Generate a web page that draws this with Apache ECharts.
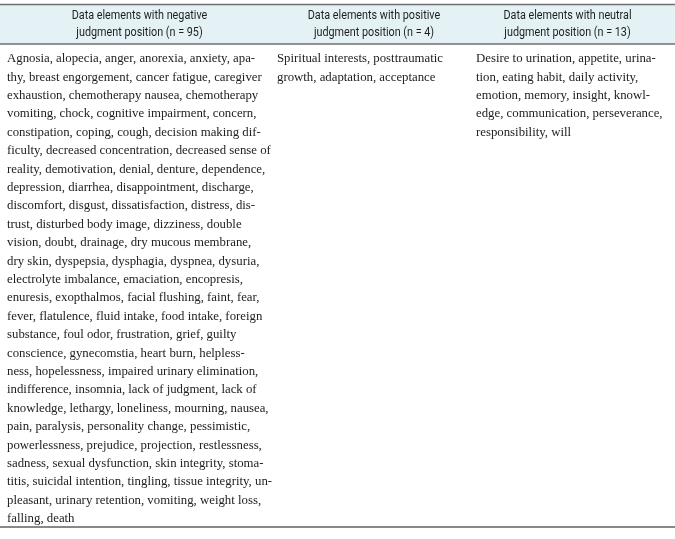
<!DOCTYPE html>
<html><head><meta charset="utf-8">
<script src="https://cdn.jsdelivr.net/npm/echarts@6/dist/echarts.min.js"></script>
<style>html,body{margin:0;padding:0;background:#fff}#c{width:675px;height:539px}</style>
</head><body><div id="c"></div>
<script>
var headers = [
  ["Data elements with negative", "judgment position (n = 95)"],
  ["Data elements with positive", "judgment position (n = 4)"],
  ["Data elements with neutral", "judgment position (n = 13)"]
];
var negativeLines = [
  "Agnosia, alopecia, anger, anorexia, anxiety, apa-",
  "thy, breast engorgement, cancer fatigue, caregiver",
  "exhaustion, chemotherapy nausea, chemotherapy",
  "vomiting, chock, cognitive impairment, concern,",
  "constipation, coping, cough, decision making dif-",
  "ficulty, decreased concentration, decreased sense of",
  "reality, demotivation, denial, denture, dependence,",
  "depression, diarrhea, disappointment, discharge,",
  "discomfort, disgust, dissatisfaction, distress, dis-",
  "trust, disturbed body image, dizziness, double",
  "vision, doubt, drainage, dry mucous membrane,",
  "dry skin, dyspepsia, dysphagia, dyspnea, dysuria,",
  "electrolyte imbalance, emaciation, encopresis,",
  "enuresis, exopthalmos, facial flushing, faint, fear,",
  "fever, flatulence, fluid intake, food intake, foreign",
  "substance, foul odor, frustration, grief, guilty",
  "conscience, gynecomstia, heart burn, helpless-",
  "ness, hopelessness, impaired urinary elimination,",
  "indifference, insomnia, lack of judgment, lack of",
  "knowledge, lethargy, loneliness, mourning, nausea,",
  "pain, paralysis, personality change, pessimistic,",
  "powerlessness, prejudice, projection, restlessness,",
  "sadness, sexual dysfunction, skin integrity, stoma-",
  "titis, suicidal intention, tingling, tissue integrity, un-",
  "pleasant, urinary retention, vomiting, weight loss,",
  "falling, death"
];
var positiveLines = [
  "Spiritual interests, posttraumatic",
  "growth, adaptation, acceptance"
];
var neutralLines = [
  "Desire to urination, appetite, urina-",
  "tion, eating habit, daily activity,",
  "emotion, memory, insight, knowl-",
  "edge, communication, perseverance,",
  "responsibility, will"
];

var chart = echarts.init(document.getElementById('c'), null, {renderer: 'canvas'});
var colLeft = [7, 277, 476];
var colCenter = [139.5, 374, 567.5];
var bodyTop = 58.8, lineH = 18.4;
var els = [];
els.push({type: 'rect', shape: {x: 0, y: 4, width: 675, height: 40}, style: {fill: '#e4f2f6'}});
els.push({type: 'line', shape: {x1: 0, y1: 4.5, x2: 675, y2: 4.5}, style: {stroke: '#707070', lineWidth: 1.3}});
els.push({type: 'line', shape: {x1: 0, y1: 44, x2: 675, y2: 44}, style: {stroke: '#707070', lineWidth: 1.3}});
els.push({type: 'line', shape: {x1: 0, y1: 527, x2: 675, y2: 527}, style: {stroke: '#606060', lineWidth: 1.3}});
headers.forEach(function (h, i) {
  h.forEach(function (t, j) {
    els.push({type: 'text', x: colCenter[i], y: 16 + j * 17, scaleX: 0.9,
      style: {text: t, fill: '#1e1e1e', font: '12px Roboto, "Liberation Sans", sans-serif', align: 'center', verticalAlign: 'middle'}});
  });
});
[negativeLines, positiveLines, neutralLines].forEach(function (arr, i) {
  arr.forEach(function (t, j) {
    els.push({type: 'text', x: colLeft[i], y: bodyTop + j * lineH,
      style: {text: t, fill: '#222', font: '12.8px "Liberation Serif", "DejaVu Serif", serif', align: 'left', verticalAlign: 'middle'}});
  });
});
chart.setOption({animation: false, graphic: {elements: els}});
</script></body></html>
